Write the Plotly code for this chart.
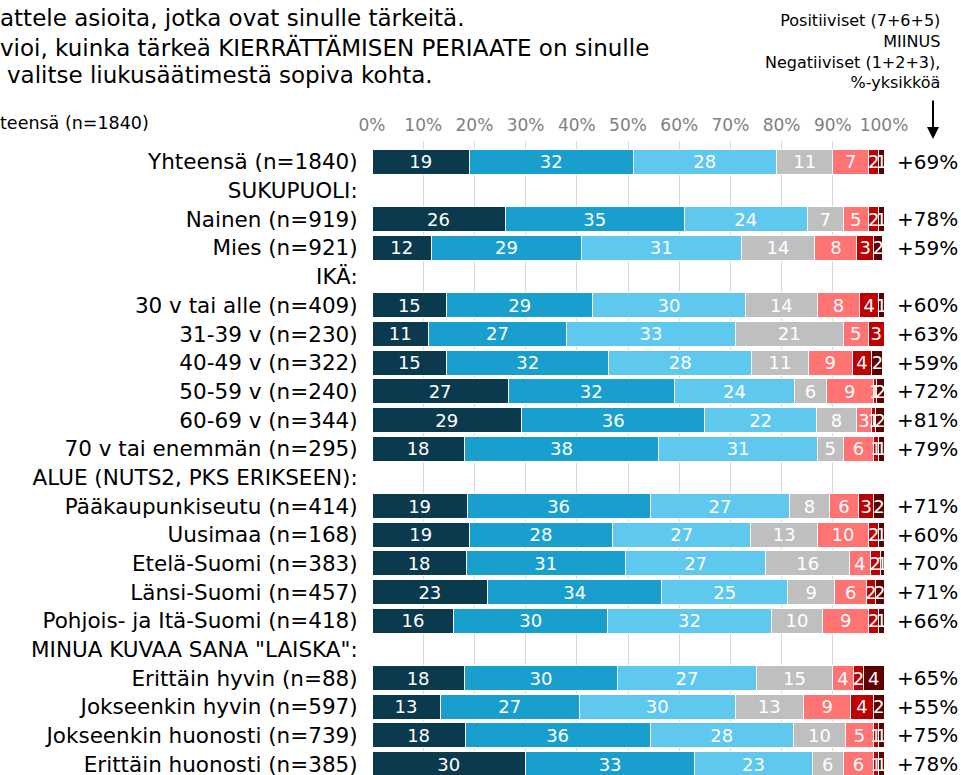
import plotly.graph_objects as go

# ---------------- data ----------------
categories = [
    "Yhteensä (n=1840)", "SUKUPUOLI:", "Nainen (n=919)", "Mies (n=921)", "IKÄ:",
    "30 v tai alle (n=409)", "31-39 v (n=230)", "40-49 v (n=322)", "50-59 v (n=240)",
    "60-69 v (n=344)", "70 v tai enemmän (n=295)", "ALUE (NUTS2, PKS ERIKSEEN):",
    "Pääkaupunkiseutu (n=414)", "Uusimaa (n=168)", "Etelä-Suomi (n=383)",
    "Länsi-Suomi (n=457)", "Pohjois- ja Itä-Suomi (n=418)", 'MINUA KUVAA SANA "LAISKA":',
    "Erittäin hyvin (n=88)", "Jokseenkin hyvin (n=597)", "Jokseenkin huonosti (n=739)",
    "Erittäin huonosti (n=385)",
]
v7 = [19, None, 26, 11.6, None, 14.6, 11, 14.6, 26.6, 29.2, 18, None, 18.6, 19, 18.4, 22.6, 16, None, 18, 13.3, 18.2, 30]
v6 = [32, None, 35, 29.3, None, 28.5, 27, 31.6, 32.4, 35.8, 38, None, 35.7, 28, 31.1, 34.0, 30, None, 30, 27.2, 36.1, 33]
v5 = [28, None, 24, 31.2, None, 29.8, 33, 28.0, 23.6, 21.8, 31, None, 27.3, 27, 27.4, 24.6, 32, None, 27, 30.4, 28.0, 23]
v4 = [11, None, 7, 14.4, None, 14.1, 21, 11.0, 6.1, 7.8, 5, None, 7.7, 13, 16.4, 9.2, 10, None, 15, 13.4, 10.2, 6]
v3 = [7, None, 5, 8.2, None, 8.2, 5, 8.6, 9.2, 3.0, 6, None, 5.8, 10, 4.0, 6.2, 9, None, 4, 9.2, 5.4, 6]
v2 = [2, None, 2, 3.3, None, 3.8, 3, 3.8, 0.6, 0.8, 1, None, 2.9, 2, 2.0, 1.7, 2, None, 2, 4.4, 1.1, 1]
v1 = [1, None, 1, 1.8, None, 1.0, 0, 2.2, 1.6, 1.6, 1, None, 2.0, 1, 0.7, 1.7, 1, None, 4, 2.1, 1.0, 1]
net = [69, None, 78, 59, None, 60, 63, 59, 72, 81, 79, None, 71, 60, 70, 71, 66, None, 65, 55, 75, 78]

x_ticks = [0, 10, 20, 30, 40, 50, 60, 70, 80, 90, 100]
x_ticktext = ["0%", "10%", "20%", "30%", "40%", "50%", "60%", "70%", "80%", "90%", "100%"]

series = [("7", v7, "#0b3a4e"), ("6", v6, "#189fce"), ("5", v5, "#5ec8ef"),
          ("4", v4, "#bfbfbf"), ("3", v3, "#ff7373"), ("2", v2, "#c00000"),
          ("1", v1, "#5c0000")]

title_lines = [
    "attele asioita, jotka ovat sinulle tärkeitä.",
    "vioi, kuinka tärkeä KIERRÄTTÄMISEN PERIAATE on sinulle",
    "valitse liukusäätimestä sopiva kohta.",
]
header_left = "teensä (n=1840)"
net_note = "Positiiviset (7+6+5)<br>MIINUS<br>Negatiiviset (1+2+3),<br>%-yksikköä"

# ---------------- layout constants ----------------
W, H = 961, 775
PT, PB, PL, PR = 141, 775, 372, 884
FONT = "DejaVu Sans"


def px_x(px):
    return (px - PL) / (PR - PL)


def px_y(py):
    return (PB - py) / (PB - PT)


ypos = list(range(len(categories)))

fig = go.Figure()
for name, vals, col in series:
    texts = ["" if (v is None or v == 0) else str(int(v + 0.5)) for v in vals]
    fig.add_trace(go.Bar(
        y=ypos, x=vals, orientation="h", name=name,
        marker=dict(color=col, line=dict(color="white", width=1)),
        text=texts, textposition="inside", insidetextanchor="middle",
        constraintext="none", textangle=0,
        textfont=dict(color="white", size=18, family=FONT),
        hoverinfo="skip", showlegend=False,
    ))

annotations = []
for i, n in enumerate(net):
    if n is None:
        continue
    annotations.append(dict(
        xref="paper", yref="y", x=px_x(895), y=i, xanchor="left", yanchor="middle",
        text=f"+{n}%", showarrow=False, font=dict(size=20, color="black", family=FONT),
    ))

title_y = [18, 47, 75]
title_x = [0, 0, 7]
for t, ty, tx in zip(title_lines, title_y, title_x):
    annotations.append(dict(
        xref="paper", yref="paper", x=px_x(tx - 2), y=px_y(ty), xanchor="left", yanchor="middle",
        text=t, showarrow=False, font=dict(size=23, color="black", family=FONT),
    ))

annotations.append(dict(
    xref="paper", yref="paper", x=px_x(-2), y=px_y(123), xanchor="left", yanchor="middle",
    text=header_left, showarrow=False, font=dict(size=17.5, color="black", family=FONT),
))

annotations.append(dict(
    xref="paper", yref="paper", x=px_x(942), y=px_y(51), xanchor="right", yanchor="middle",
    text=net_note, showarrow=False, align="right",
    font=dict(size=16, color="black", family=FONT),
))

annotations.append(dict(
    xref="paper", yref="paper", x=px_x(933), y=px_y(139), text="",
    showarrow=True, ax=0, ay=-40, arrowhead=2, arrowsize=1.2, arrowwidth=2,
    arrowcolor="black",
))

fig.update_layout(
    width=W, height=H,
    margin=dict(l=PL, r=W - PR, t=PT, b=H - PB, autoexpand=False),
    barmode="stack", bargap=0.13,
    plot_bgcolor="white", paper_bgcolor="white",
    font=dict(family=FONT, color="black"),
    xaxis=dict(
        side="top", range=[0, 100], tickvals=x_ticks, ticktext=x_ticktext,
        showgrid=True, gridcolor="#d9d9d9", gridwidth=1, zeroline=False,
        tickfont=dict(size=17, color="#808080", family=FONT), ticks="",
        ticklabelstandoff=6, fixedrange=True,
    ),
    yaxis=dict(
        range=[21.38, -0.73], tickvals=ypos, ticktext=categories,
        tickfont=dict(size=21.5, color="black", family=FONT),
        ticks="outside", ticklen=9, tickcolor="rgba(0,0,0,0)",
        ticklabeloverflow="allow",
        showgrid=False, zeroline=False, fixedrange=True,
    ),
    annotations=annotations,
)

fig.write_html("out.html", config={"displayModeBar": False},
               post_script="document.body.style.margin='0';")
